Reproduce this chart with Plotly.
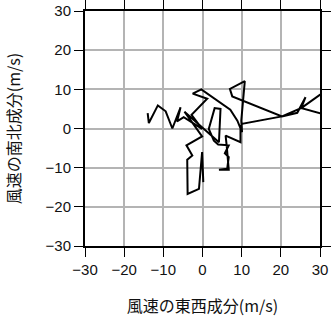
import plotly.graph_objects as go

# wind components (m/s), path order
u = [-14.0, -13.7, -11.4, -9.4, -7.7, -5.6, -6.5, -4.8, -0.1, -2.8, 1.2, -2.5, -0.3,
     7.1, 8.9, 10.1, 9.9, 10.8, 7.0, 7.6, 20.3, 24.2, 26.3, 25.2, 34.0, 34.0, 25.2,
     20.3, 10.1, 9.7, 9.7, 5.9, 6.2, 6.7, 4.2, 6.3, 6.7, 5.7, 6.7, 4.0, 2.9, 1.6,
     3.1, 4.6, 4.2, -4.6, -0.1, -4.1, -2.6, -3.9, -3.8, -0.9, -0.1, 0.2]
v = [3.9, 1.4, 5.9, 4.4, 0.0, 5.4, 1.8, 2.9, -0.1, 3.5, 7.6, 8.9, 10.0,
     4.8, 2.0, -0.9, 2.0, 12.1, 10.1, 8.2, 3.1, 4.0, 8.0, 5.2, 11.5, 2.8, 5.2,
     3.1, 1.2, 0.3, -3.5, -1.8, -4.6, -10.5, -10.5, -10.3, -7.3, -6.3, -4.3, -4.1, -3.1, -0.1,
     5.2, 5.0, -3.5, 4.3, -2.0, -4.3, -6.9, -8.0, -16.7, -15.4, -6.0, -13.7]

tick_vals = [-30, -20, -10, 0, 10, 20, 30]
x_title = "風速の東西成分(m/s)"
y_title = "風速の南北成分(m/s)"

fig = go.Figure(go.Scatter(x=u, y=v, mode="lines",
                           line=dict(color="black", width=2), hoverinfo="skip"))

tick_font = dict(family="Liberation Sans, Arial, sans-serif", size=15, color="#111")
title_font = dict(family="Noto Sans CJK JP, sans-serif", size=16, color="#111")
common = dict(range=[-30, 30], tickvals=tick_vals, showgrid=True, gridcolor="#b4b4b4",
              gridwidth=2, zeroline=False, showline=True, linecolor="black", linewidth=2,
              mirror="ticks", ticks="outside", ticklen=9, tickcolor="black", tickwidth=1,
              tickfont=tick_font, title_font=title_font, automargin=False)

fig.update_xaxes(**common, title=dict(text=x_title, standoff=24))
fig.update_yaxes(**common, title=dict(text=y_title, standoff=21))

fig.update_layout(width=331, height=318, margin=dict(l=85, r=11, t=11, b=72),
                  plot_bgcolor="white", paper_bgcolor="white", showlegend=False)

fig.write_html("out.html")
